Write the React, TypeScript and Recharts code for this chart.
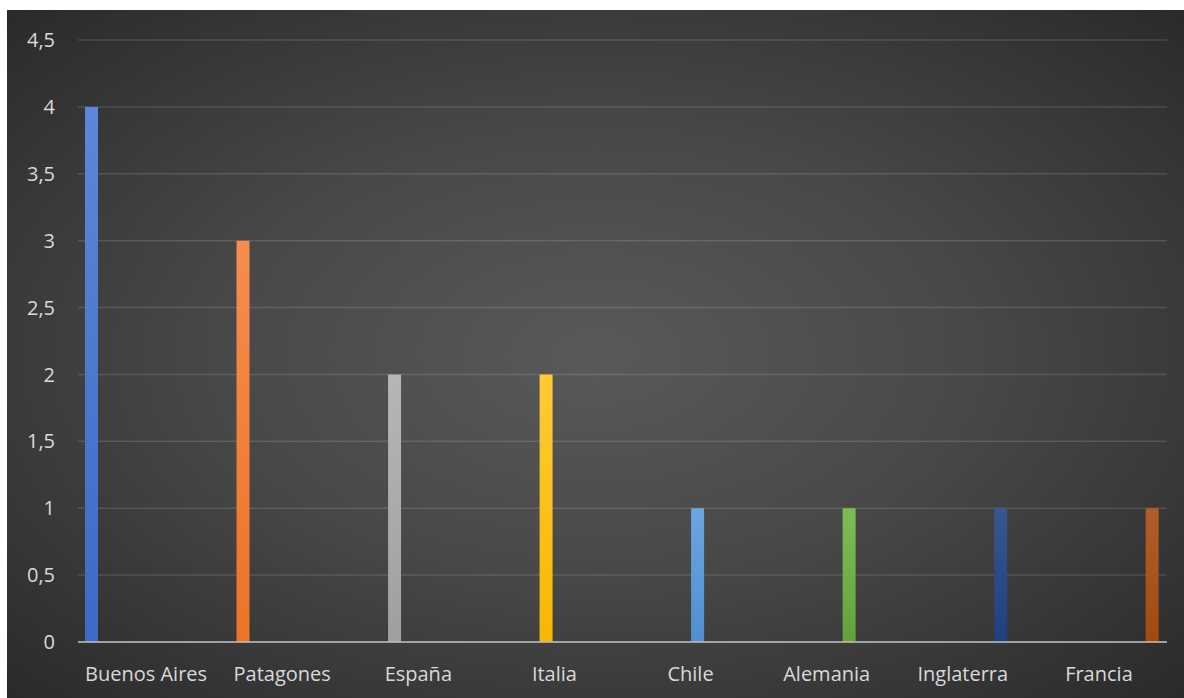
import { BarChart, Bar, XAxis, YAxis, CartesianGrid } from "recharts";

const categories = ["Buenos Aires", "Patagones", "España", "Italia", "Chile", "Alemania", "Inglaterra", "Francia"];
const values = [4, 3, 2, 2, 1, 1, 1, 1];
const yTicks = [0, 0.5, 1, 1.5, 2, 2.5, 3, 3.5, 4, 4.5];

// top / bottom colours of each bar's gradient (Excel-like palette)
const topColors = ["#5c87da", "#f68c4f", "#b6b6b6", "#ffca35", "#6ba6df", "#7dbe54", "#36578f", "#b25c2c"];
const bottomColors = ["#3a6bc6", "#ec7425", "#9f9f9f", "#f7b800", "#4f90d0", "#63a23a", "#1f4080", "#a24a0e"];

// one series per category so every bar sits in its own slot of the cluster
const data = categories.map((name, i) => {
  const row: Record<string, any> = { name };
  categories.forEach((_, j) => {
    row["s" + j] = i === j ? values[i] : null;
  });
  return row;
});

const FONT = "'Open Sans', sans-serif";

export default function App() {
  return (
    <div style={{ position: "absolute", left: 0, top: 0, width: 1184, height: 698, background: "#fff" }}>
      <div
        style={{
          position: "absolute",
          left: 7,
          top: 10,
          width: 1177,
          height: 688,
          background: "radial-gradient(ellipse at 50% 50%, #595959 0%, #484848 45%, #2a2a2a 100%)",
        }}
      >
        <BarChart
          width={1177}
          height={688}
          data={data}
          margin={{ top: 30, right: 17, bottom: 26, left: 11 }}
          barCategoryGap={7}
          barGap={2.4}
        >
          <defs>
            {categories.map((_, i) => (
              <linearGradient key={i} id={"g" + i} x1="0" y1="0" x2="0" y2="1">
                <stop offset="0%" stopColor={topColors[i]} />
                <stop offset="100%" stopColor={bottomColors[i]} />
              </linearGradient>
            ))}
          </defs>
          <CartesianGrid vertical={false} stroke="rgba(255,255,255,0.13)" strokeWidth={1.5} />
          <XAxis
            dataKey="name"
            height={30}
            tickLine={false}
            tickSize={0}
            tickMargin={25}
            axisLine={{ stroke: "#bfbfbf", strokeWidth: 1.5 }}
            tick={{ fill: "#d9d9d9", fontSize: 20, fontFamily: FONT }}
            interval={0}
          />
          <YAxis
            width={60}
            domain={[0, 4.5]}
            ticks={yTicks}
            tickLine={false}
            tickSize={0}
            tickMargin={23}
            axisLine={false}
            tick={{ fill: "#d9d9d9", fontSize: 20, fontFamily: FONT }}
            tickFormatter={(v: number) => String(v).replace(".", ",")}
          />
          {categories.map((_, i) => (
            <Bar key={i} dataKey={"s" + i} fill={`url(#g${i})`} isAnimationActive={false} />
          ))}
        </BarChart>
      </div>
    </div>
  );
}
